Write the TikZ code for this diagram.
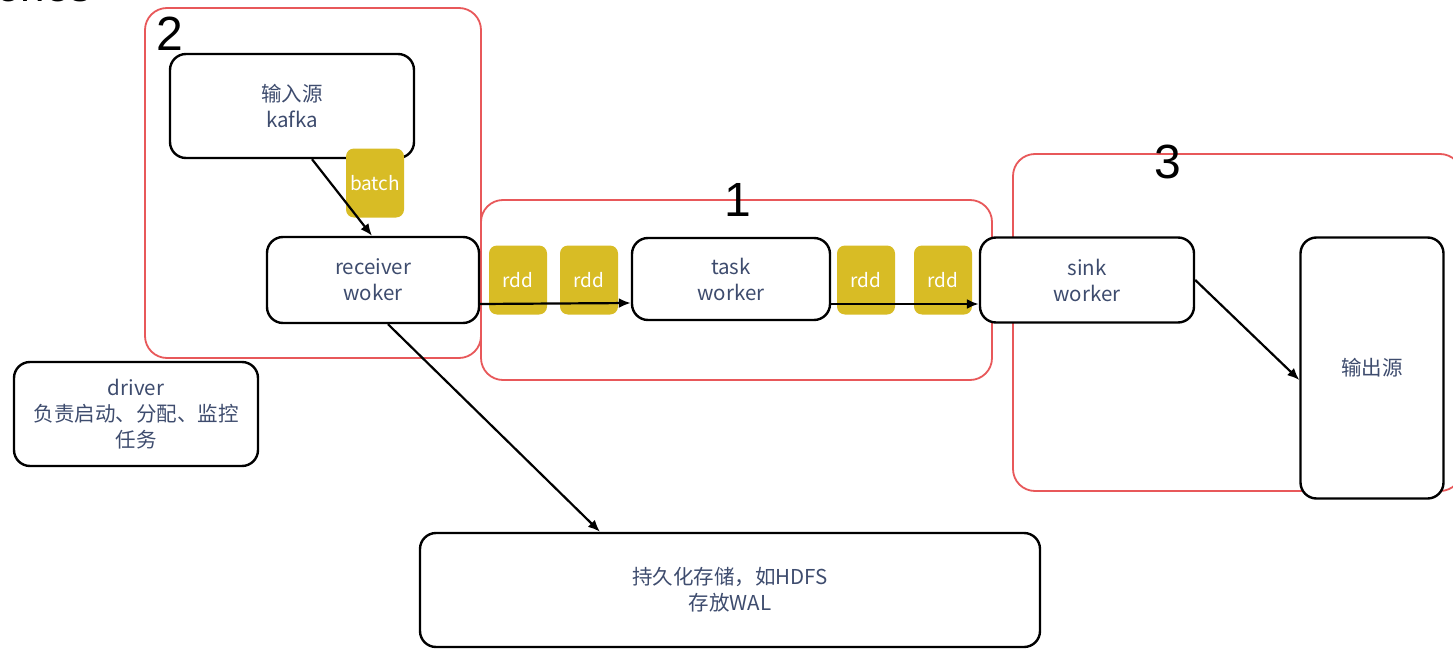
\documentclass[tikz,border=0pt]{standalone}
\usepackage{fontspec}
\setmainfont{Liberation Sans}
\newfontfamily\cjk{Noto Sans CJK SC}
\usetikzlibrary{arrows.meta}
\definecolor{txtblue}{HTML}{3E4C6E}
\definecolor{gold}{HTML}{D8BC25}
\definecolor{grpred}{HTML}{E8585A}
\tikzset{
  x=1pt, y=-1pt,
  box/.style={draw=black, line width=2.4pt, rounded corners=16pt, fill=white, text=txtblue,
    font=\cjk\fontsize{20.5}{26}\selectfont, align=center, inner sep=0pt},
  grp/.style={draw=grpred, line width=1.8pt, rounded corners=22pt},
  rddbox/.style={fill=gold, rounded corners=8pt, text=white, font=\cjk\fontsize{19}{20}\selectfont,
    inner sep=0pt, minimum width=58pt, minimum height=69pt},
  num/.style={font=\fontsize{48}{48}\selectfont, text=black, inner sep=0pt},
  arr/.style={draw=black, line width=2.2pt, -{Latex[length=12pt,width=10pt]}}
}
\begin{document}
\begin{tikzpicture}
\useasboundingbox[fill=white] (0,0) rectangle (1453,650);
% cut-off heading
\begin{scope}
\clip (0,0) rectangle (200,40);
\node[anchor=base west, inner sep=0pt, font=\fontsize{44}{44}\selectfont] (head) at (-4,2) {ones};
\end{scope}
% group frames
\draw[grp] (145,8) rectangle (481,358);
\draw[grp] (481,200) rectangle (992,380);
\draw[grp] (1013,154) rectangle (1462,491);
\node[num] (n2) at (170,34) {2};
\node[num] (n1) at (738,200) {1};
\node[num] (n3) at (1168,162) {3};
% nodes
\node[box, minimum width=244pt, minimum height=104pt] (kafka) at (292,106) {输入源\\kafka};
\node[rddbox] (batch) at (375,183) {batch};
\node[box, minimum width=212pt, minimum height=86pt] (recv) at (373,280) {receiver\\woker};
\node[rddbox] (r1) at (518,280) {rdd};
\node[rddbox] (r2) at (589,280) {rdd};
\node[box, minimum width=198pt, minimum height=82pt] (task) at (731,279) {task\\worker};
\node[rddbox] (r3) at (866,280) {rdd};
\node[rddbox] (r4) at (943,280) {rdd};
\node[box, minimum width=214pt, minimum height=85pt] (sink) at (1087,280) {sink\\worker};
\node[box, minimum width=143pt, minimum height=261pt] (out) at (1372,368) {输出源};
\node[box, minimum width=244pt, minimum height=104pt] (driver) at (136,414) {driver\\负责启动、分配、监控\\任务};
\node[box, minimum width=620pt, minimum height=114pt] (store) at (730,590) {持久化存储，如HDFS\\存放WAL};
% connectors
\draw[arr] ([xshift=20pt]kafka.south) -- ([xshift=-1pt]recv.north);
\draw[arr] ([yshift=-24pt]recv.east) -- ([yshift=-24pt]task.west);
\draw[arr] ([yshift=-25pt]task.east) -- ([yshift=-24pt]sink.west);
\draw[arr] ([xshift=15pt]recv.south) -- ([xshift=-130pt]store.north);
\draw[arr] (sink.east) -- ([yshift=-12pt]out.west);
\end{tikzpicture}
\end{document}
